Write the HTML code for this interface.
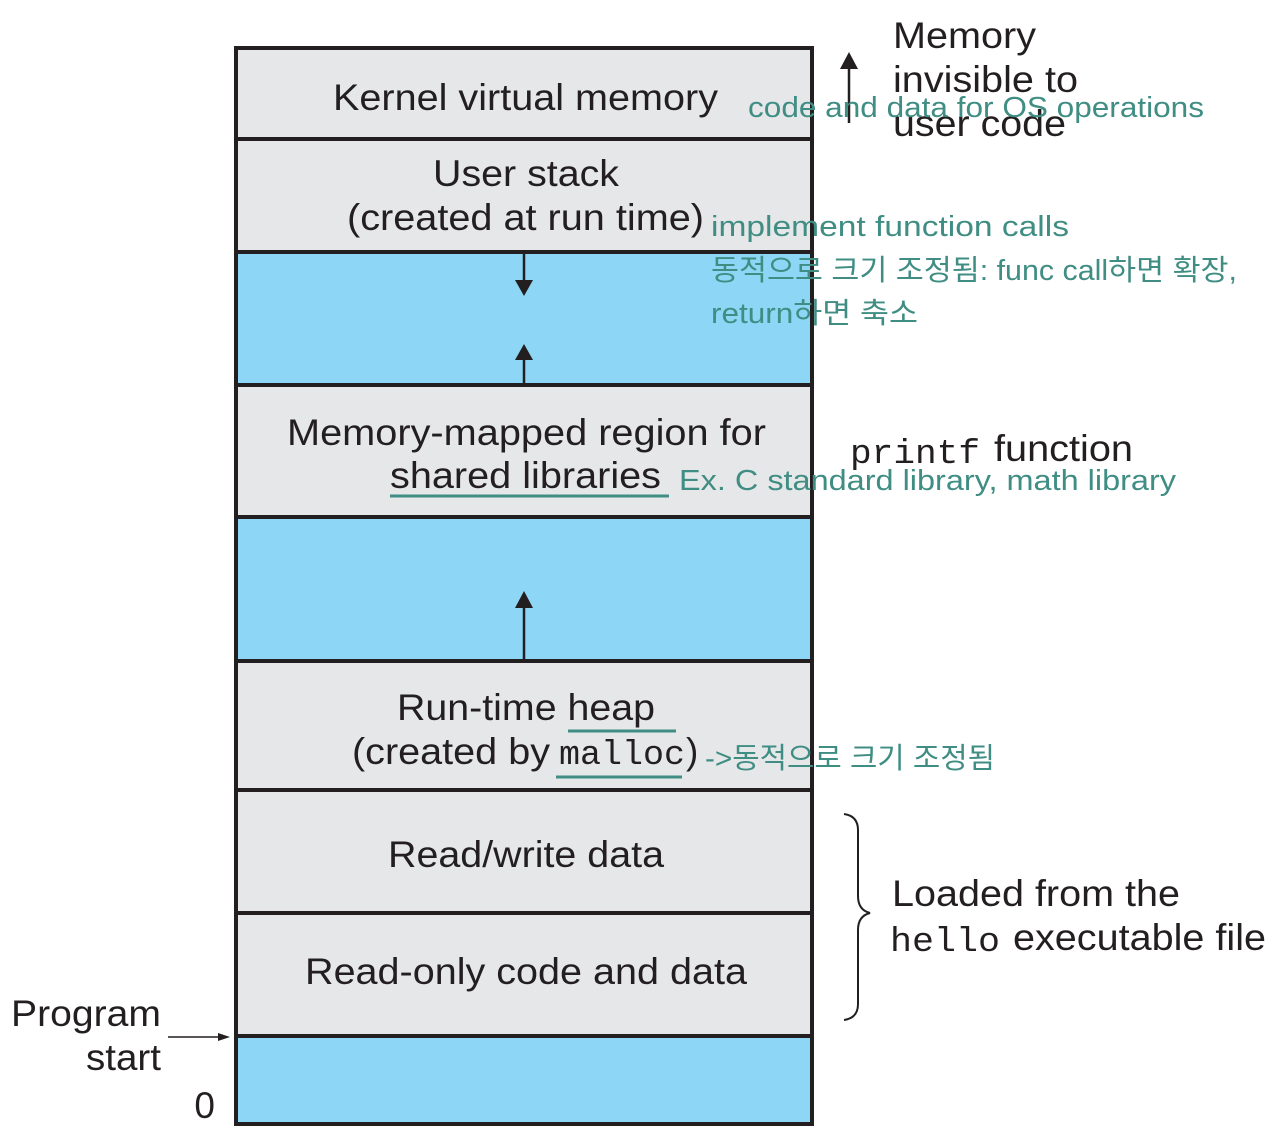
<!DOCTYPE html>
<html><head><meta charset="utf-8"><style>
html,body{margin:0;padding:0;background:#fff;}
svg{display:block;}
.b{font-family:"Liberation Sans",sans-serif;font-size:37px;fill:#231f20;}
.m{font-family:"Liberation Mono",monospace;font-size:34px;fill:#231f20;}
.t{font-family:"Liberation Sans","Noto Sans CJK KR",sans-serif;font-size:29px;fill:#3f8d83;}
</style></head><body>
<svg width="1276" height="1132" viewBox="0 0 1276 1132" xmlns="http://www.w3.org/2000/svg">
<rect x="0" y="0" width="1276" height="1132" fill="#fff"/>
<rect x="236" y="48" width="576" height="91" fill="#e6e7e9"/>
<rect x="236" y="139" width="576" height="113" fill="#e6e7e9"/>
<rect x="236" y="252" width="576" height="133" fill="#8dd6f5"/>
<rect x="236" y="385" width="576" height="132" fill="#e6e7e9"/>
<rect x="236" y="517" width="576" height="144" fill="#8dd6f5"/>
<rect x="236" y="661" width="576" height="129" fill="#e6e7e9"/>
<rect x="236" y="790" width="576" height="123" fill="#e6e7e9"/>
<rect x="236" y="913" width="576" height="123" fill="#e6e7e9"/>
<rect x="236" y="1036" width="576" height="88" fill="#8dd6f5"/>
<g stroke="#231f20" stroke-width="4">
<rect x="236" y="48" width="576" height="1076" fill="none"/>
<line x1="236" y1="139" x2="812" y2="139"/>
<line x1="236" y1="252" x2="812" y2="252"/>
<line x1="236" y1="385" x2="812" y2="385"/>
<line x1="236" y1="517" x2="812" y2="517"/>
<line x1="236" y1="661" x2="812" y2="661"/>
<line x1="236" y1="790" x2="812" y2="790"/>
<line x1="236" y1="913" x2="812" y2="913"/>
<line x1="236" y1="1036" x2="812" y2="1036"/>
</g>
<g stroke="#231f20" stroke-width="2.5" fill="#231f20">
<line x1="524" y1="254" x2="524" y2="282"/>
<polygon points="515,280 533,280 524,296" stroke="none"/>
<line x1="524" y1="383" x2="524" y2="358"/>
<polygon points="515,360 533,360 524,344" stroke="none"/>
<line x1="524" y1="660" x2="524" y2="605"/>
<polygon points="515,608 533,608 524,591" stroke="none"/>
<line x1="849" y1="123" x2="849" y2="66"/>
<polygon points="840,69 858,69 849,52" stroke="none"/>
<line x1="168" y1="1037" x2="222" y2="1037" stroke-width="1.5"/>
<polygon points="218,1033 230,1037 218,1041" stroke="none"/>
</g>
<path d="M844,814 Q858,816 858,830 L858,896 Q858,910 870,913 Q858,916 858,930 L858,1004 Q858,1018 844,1020" fill="none" stroke="#231f20" stroke-width="2"/>
<g lengthAdjust="spacingAndGlyphs">
<text class="b" x="333" y="110" textLength="385" lengthAdjust="spacingAndGlyphs">Kernel virtual memory</text>
<text class="b" x="433" y="186" textLength="186" lengthAdjust="spacingAndGlyphs">User stack</text>
<text class="b" x="347" y="230" textLength="357" lengthAdjust="spacingAndGlyphs">(created at run time)</text>
<text class="b" x="287" y="445" textLength="479" lengthAdjust="spacingAndGlyphs">Memory-mapped region for</text>
<text class="b" x="390" y="488" textLength="271" lengthAdjust="spacingAndGlyphs">shared libraries</text>
<text class="b" x="397" y="720" textLength="258" lengthAdjust="spacingAndGlyphs">Run-time heap</text>
<text class="b" x="352" y="764" textLength="198" lengthAdjust="spacingAndGlyphs">(created by</text>
<text class="m" x="559" y="764" textLength="126" lengthAdjust="spacingAndGlyphs">malloc</text>
<text class="b" x="686" y="764">)</text>
<text class="b" x="388" y="867" textLength="276" lengthAdjust="spacingAndGlyphs">Read/write data</text>
<text class="b" x="305" y="984" textLength="442" lengthAdjust="spacingAndGlyphs">Read-only code and data</text>
<text class="b" x="893" y="48" textLength="143" lengthAdjust="spacingAndGlyphs">Memory</text>
<text class="b" x="893" y="92" textLength="185" lengthAdjust="spacingAndGlyphs">invisible to</text>
<text class="b" x="893" y="136" textLength="173" lengthAdjust="spacingAndGlyphs">user code</text>
<text class="m" x="850" y="463" textLength="130" lengthAdjust="spacingAndGlyphs">printf</text>
<text class="b" x="994" y="461" textLength="139" lengthAdjust="spacingAndGlyphs">function</text>
<text class="b" x="892" y="906" textLength="288" lengthAdjust="spacingAndGlyphs">Loaded from the</text>
<text class="m" x="890" y="951" textLength="110" lengthAdjust="spacingAndGlyphs">hello</text>
<text class="b" x="1013" y="950" textLength="253" lengthAdjust="spacingAndGlyphs">executable file</text>
<text class="b" x="11" y="1026" textLength="150" lengthAdjust="spacingAndGlyphs">Program</text>
<text class="b" x="86" y="1070" textLength="75" lengthAdjust="spacingAndGlyphs">start</text>
<text class="b" x="215" y="1118" text-anchor="end">0</text>
<text class="t" x="748" y="117" textLength="456" lengthAdjust="spacingAndGlyphs">code and data for OS operations</text>
<text class="t" x="711" y="236" textLength="358" lengthAdjust="spacingAndGlyphs">implement function calls</text>
<text class="t" x="711" y="280" textLength="526" lengthAdjust="spacingAndGlyphs">동적으로 크기 조정됨: func call하면 확장,</text>
<text class="t" x="711" y="323" textLength="207" lengthAdjust="spacingAndGlyphs">return하면 축소</text>
<text class="t" x="679" y="490" textLength="497" lengthAdjust="spacingAndGlyphs">Ex. C standard library, math library</text>
<text class="t" x="705" y="768" textLength="290" lengthAdjust="spacingAndGlyphs">-&gt;동적으로 크기 조정됨</text>
</g>
<g stroke="#3f8d83" stroke-width="3">
<line x1="390" y1="496" x2="669" y2="496"/>
<line x1="568" y1="731" x2="676" y2="731"/>
<line x1="556" y1="777" x2="682" y2="777"/>
</g>
</svg>
</body></html>
